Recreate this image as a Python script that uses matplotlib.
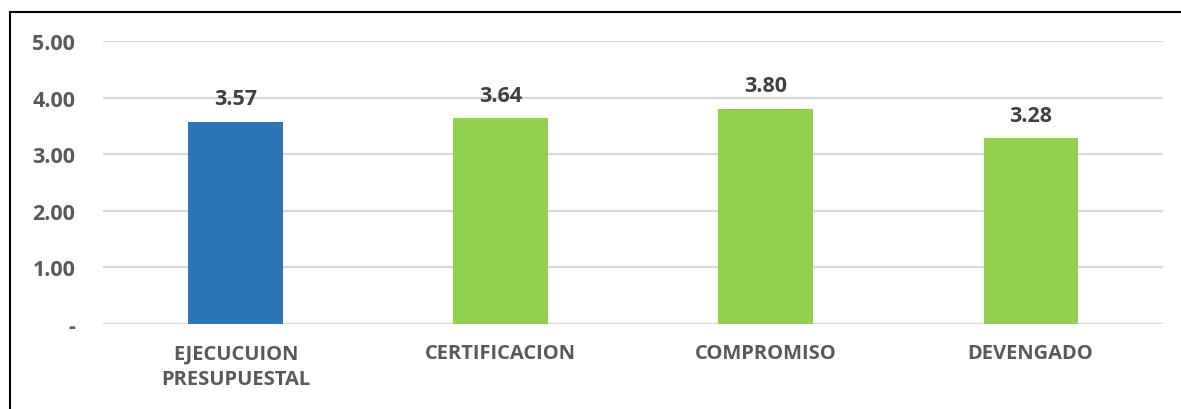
import matplotlib
matplotlib.use('Agg')
import matplotlib.pyplot as plt
from matplotlib.lines import Line2D

categories = ['EJECUCUION\nPRESUPUESTAL', 'CERTIFICACION', 'COMPROMISO', 'DEVENGADO']
values = [3.57, 3.64, 3.80, 3.28]
colors = ['#2E75B6', '#92D050', '#92D050', '#92D050']
yticks = [0, 1, 2, 3, 4, 5]
ytick_labels = ['-', '1.00', '2.00', '3.00', '4.00', '5.00']

plt.rcParams['font.family'] = ['Open Sans', 'DejaVu Sans']
plt.rcParams['font.weight'] = 'bold'

fig = plt.figure(figsize=(11.81, 4.10), dpi=100)
ax = fig.add_axes([0.0872, 0.2073, 0.8976, 0.6903])

x = range(len(categories))
ax.bar(x, values, width=0.355, color=colors, zorder=3)
for i, v in enumerate(values):
    ax.text(i, v + 0.22, f'{v:.2f}', ha='center', va='bottom',
            fontsize=15.5, fontweight='bold', color='#404040')

ax.set_xlim(-0.5, len(categories) - 0.5)
ax.set_ylim(0, 5)
ax.set_yticks(yticks)
ax.set_yticklabels(ytick_labels, fontsize=15.5, fontweight='bold', color='#595959')
ax.set_xticks(list(x))
ax.set_xticklabels(categories, fontsize=14.5, fontweight='bold', color='#595959', linespacing=1.4)
ax.tick_params(axis='both', length=0)
ax.tick_params(axis='y', pad=20)
ax.tick_params(axis='x', pad=14)
ax.grid(axis='y', color='#D9D9D9', linewidth=1.6, zorder=0)
for s in ax.spines.values():
    s.set_visible(False)

# outer frame (left and top edges only, as in the cropped picture)
fig.add_artist(Line2D([10 / 1181, 10 / 1181], [0, 1 - 13 / 410], color='black', linewidth=1.5))
fig.add_artist(Line2D([10 / 1181, 1], [1 - 13 / 410, 1 - 13 / 410], color='black', linewidth=1.5))

fig.savefig('out.png', dpi=100)
